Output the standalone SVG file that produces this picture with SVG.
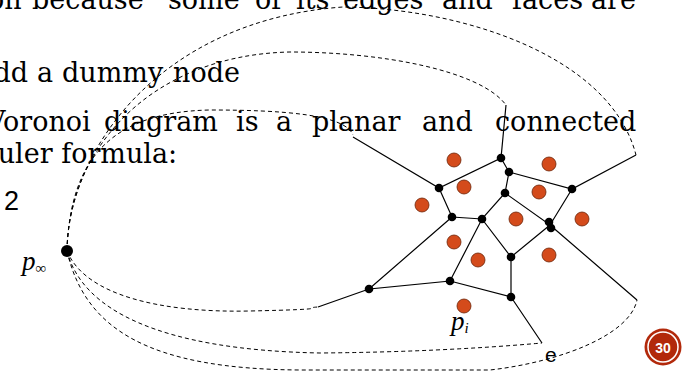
<svg xmlns="http://www.w3.org/2000/svg" width="686" height="371" viewBox="0 0 686 371">
<style>
.t{font-family:"DejaVu Serif","Liberation Serif",serif;font-size:27px;fill:#000}
.e{stroke:#000;stroke-width:1.2;fill:none}
.d{stroke:#000;stroke-width:1;fill:none;stroke-dasharray:4 3}
.v{fill:#000}
.s{fill:#d44b1b;stroke:#6b2308;stroke-width:0.8}
.lab{font-family:"Liberation Serif",serif;font-style:italic;fill:#000}
</style>
<rect width="686" height="371" fill="#fff"/>
<g id="text">
<text class="t" y="9"><tspan x="-13">ph</tspan><tspan x="32">because</tspan><tspan x="168">some</tspan><tspan x="255">of</tspan><tspan x="296">its</tspan><tspan x="343">edges</tspan><tspan x="442">and</tspan><tspan x="512">faces</tspan><tspan x="591">are</tspan></text>
<text class="t" y="82"><tspan x="-26">Add</tspan><tspan x="37">a</tspan><tspan x="62">dummy</tspan><tspan x="173">node</tspan></text>
<text class="t" y="131"><tspan x="-14">Voronoi</tspan><tspan x="104">diagram</tspan><tspan x="236">is</tspan><tspan x="276">a</tspan><tspan x="312">planar</tspan><tspan x="422">and</tspan><tspan x="495">connected</tspan></text>
<text class="t" y="163" x="-22">Euler formula:</text>
<text y="210" x="4" style="font-family:'Liberation Sans',sans-serif;font-size:27px">2</text>
</g>
<g id="connectors">
<path class="d" d="M67,251 C68,150 160,20 343,7 C460,8 610,55 636,155"/>
<path class="d" d="M67,251 C68,150 150,55 290,52 C380,52 480,70 506,105"/>
<path class="d" d="M67,251 C70,160 110,112 210,110 C280,110 345,114 353,135"/>
<path class="d" d="M67,251 C85,295 160,313 250,311 S300,308 318,307"/>
<path class="d" d="M67,251 C82,310 160,350 320,353 Q440,352 542,343"/>
<path class="d" d="M67,251 C85,330 150,369 300,370 L490,370 C560,362 630,335 637,300"/>
<path class="e" d="M506,105 L501,158 L439,188 L353,137 M501,158 L509,172 L505,193 L482,219 L452,217 L439,188 M509,172 L572,189 L636,155 M572,189 L550,225 L505,193 M550,225 L511,257 L482,219 L450,281 L369,289 L452,217 M369,289 L318,307 M450,281 L511,297 L511,257 M511,297 L542,343 M550,225 L637,300"/>
</g>
<g id="vertices">
<circle class="v" cx="501" cy="158" r="4.3"/>
<circle class="v" cx="509" cy="172" r="4.3"/>
<circle class="v" cx="505" cy="193" r="4.3"/>
<circle class="v" cx="439" cy="188" r="4.3"/>
<circle class="v" cx="452" cy="217" r="4.3"/>
<circle class="v" cx="482" cy="219" r="4.3"/>
<circle class="v" cx="572" cy="189" r="4.3"/>
<circle class="v" cx="549" cy="222" r="4.3"/>
<circle class="v" cx="551" cy="228" r="4.3"/>
<circle class="v" cx="511" cy="257" r="4.3"/>
<circle class="v" cx="369" cy="289" r="4.3"/>
<circle class="v" cx="450" cy="281" r="4.3"/>
<circle class="v" cx="511" cy="297" r="4.3"/>
</g>
<g id="p-inf">
<circle class="v" cx="67" cy="251" r="6"/>
<text class="lab" x="22" y="270" font-size="27">p<tspan font-size="15" dy="3">∞</tspan></text>
</g>
<g id="sites">
<circle class="s" cx="454" cy="160" r="7"/>
<circle class="s" cx="549" cy="164" r="7"/>
<circle class="s" cx="464" cy="187" r="7"/>
<circle class="s" cx="539" cy="192" r="7"/>
<circle class="s" cx="422" cy="205" r="7"/>
<circle class="s" cx="516" cy="219" r="7"/>
<circle class="s" cx="582" cy="219" r="7"/>
<circle class="s" cx="454" cy="242" r="7"/>
<circle class="s" cx="478" cy="260" r="7"/>
<circle class="s" cx="549" cy="255" r="7"/>
<circle class="s" cx="464" cy="306" r="7"/>
</g>
<g id="labels">
<text class="lab" x="451" y="330" font-size="27">p<tspan font-size="15" dy="3">i</tspan></text>
<text x="545" y="362" style="font-family:'Liberation Sans',sans-serif;font-size:21px">e</text>
</g>
<g id="badge">
<circle cx="663" cy="347" r="18.5" fill="#b2290b"/>
<circle cx="663" cy="347" r="15" fill="none" stroke="#fff" stroke-width="1.5"/>
<text x="663" y="352.5" text-anchor="middle" style="font-family:'Liberation Sans',sans-serif;font-size:14px;font-weight:bold;fill:#fff">30</text>
</g>
</svg>
